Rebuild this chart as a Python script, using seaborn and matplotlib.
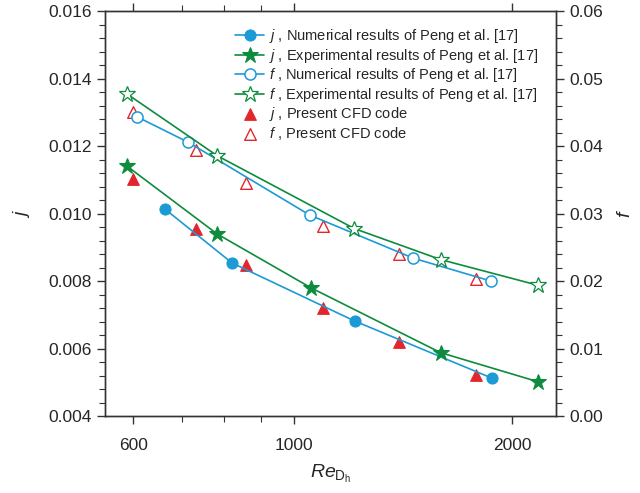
import numpy as np
import pandas as pd
import seaborn as sns
import matplotlib as mpl
import matplotlib.pyplot as plt
from matplotlib.ticker import FixedLocator, NullFormatter, MultipleLocator, FormatStrFormatter

# data
re_num = [663, 821, 1212, 1879]
j_num = [0.01014, 0.00854, 0.00682, 0.00512]
f_num_re = [606, 714, 1051, 1462, 1873]
f_num = [0.0444, 0.0406, 0.0298, 0.0234, 0.0200]

re_exp = [587, 783, 1056, 1594, 2171]
j_exp = [0.01142, 0.00940, 0.00780, 0.00588, 0.00502]
f_exp_re = [587, 783, 1211, 1594, 2171]
f_exp = [0.0478, 0.0386, 0.0278, 0.0232, 0.0194]

re_cfd = [600, 733, 858, 1097, 1395, 1786]
j_cfd = [0.01102, 0.00956, 0.00847, 0.00720, 0.00620, 0.00521]
f_cfd = [0.0451, 0.0394, 0.0346, 0.0282, 0.0241, 0.0203]

blue = '#1c9ad6'
green = '#0c8c3c'
red = '#e3262b'

sns.set_theme(style="ticks")
plt.rcParams['font.family'] = ['Liberation Sans', 'DejaVu Sans']
plt.rcParams['mathtext.fontset'] = 'custom'
plt.rcParams['mathtext.it'] = 'Liberation Sans:italic'
plt.rcParams['mathtext.rm'] = 'Liberation Sans'

fig = plt.figure(figsize=(6.4, 4.93), dpi=100)
ax = fig.add_axes([0.164, 0.156, 0.7055, 0.821])
ax2 = ax.twinx()

sns.lineplot(x=re_num, y=j_num, ax=ax, color=blue, lw=1.2, marker='o', ms=8,
             mec=blue, mfc=blue, label=r'$j$ , Numerical results of Peng et al. [17]')
sns.lineplot(x=re_exp, y=j_exp, ax=ax, color=green, lw=1.2, marker='*', ms=12,
             mec=green, mfc=green, label=r'$j$ , Experimental results of Peng et al. [17]')
sns.scatterplot(x=re_cfd, y=j_cfd, ax=ax, color=red, marker='^', s=70, edgecolor=red,
                linewidth=0.8, label=r'$j$ , Present CFD code')

sns.lineplot(x=f_num_re, y=f_num, ax=ax2, color=blue, lw=1.2, marker='o', ms=8,
             mec=blue, mfc='white', mew=1.1, label=r'$f$ , Numerical results of Peng et al. [17]')
sns.lineplot(x=f_exp_re, y=f_exp, ax=ax2, color=green, lw=1.2, marker='*', ms=12,
             mec=green, mfc='white', mew=0.9, label=r'$f$ , Experimental results of Peng et al. [17]')
sns.scatterplot(x=re_cfd, y=f_cfd, ax=ax2, marker='^', s=70, facecolor='white',
                edgecolor=red, linewidth=1.0, label=r'$f$ , Present CFD code')

ax.set_xscale('log')
ax.set_xlim(548, 2304)
ax.set_ylim(0.004, 0.016)
ax2.set_ylim(0.0, 0.06)

ax.xaxis.set_major_locator(FixedLocator([600, 1000, 2000]))
ax.xaxis.set_minor_locator(FixedLocator([700, 800, 900]))
ax.xaxis.set_major_formatter(FormatStrFormatter('%d'))
ax.xaxis.set_minor_formatter(NullFormatter())
ax.yaxis.set_major_locator(MultipleLocator(0.002))
ax.yaxis.set_minor_locator(MultipleLocator(0.0004))
ax.yaxis.set_major_formatter(FormatStrFormatter('%.3f'))
ax2.yaxis.set_major_locator(MultipleLocator(0.01))
ax2.yaxis.set_minor_locator(MultipleLocator(0.002))
ax2.yaxis.set_major_formatter(FormatStrFormatter('%.2f'))

for a in (ax, ax2):
    for s in a.spines.values():
        s.set_linewidth(1.0)
        s.set_color('#333333')
    a.tick_params(which='major', length=6, width=1.0, color='#333333', labelsize=12.5, direction='out')
    a.tick_params(which='minor', length=4, width=0.8, color='#333333', direction='out')
ax.tick_params(axis='x', which='both', top=True, labeltop=False, pad=10)
ax.tick_params(axis='y', which='both', right=False)

ax.set_xlabel(r'$\mathit{Re}_{\mathrm{D_h}}$', fontsize=14, labelpad=7)
ax.set_ylabel(r'$j$', fontsize=14, labelpad=12)
ax2.set_ylabel(r'$f$', fontsize=14, labelpad=10)

h1, l1 = ax.get_legend_handles_labels()
h2, l2 = ax2.get_legend_handles_labels()
for a in (ax, ax2):
    if a.get_legend() is not None:
        a.get_legend().remove()
handles = [h1[0], h1[1], h2[0], h2[1], h1[2], h2[2]]
labels = [l1[0], l1[1], l2[0], l2[1], l1[2], l2[2]]
ax2.legend(handles, labels, loc='upper left', bbox_to_anchor=(0.275, 0.975), frameon=False,
           fontsize=10.5, handlelength=2.0, handletextpad=0.3, labelspacing=0.1,
           borderaxespad=0.0)

fig.savefig('out.png', dpi=100)
